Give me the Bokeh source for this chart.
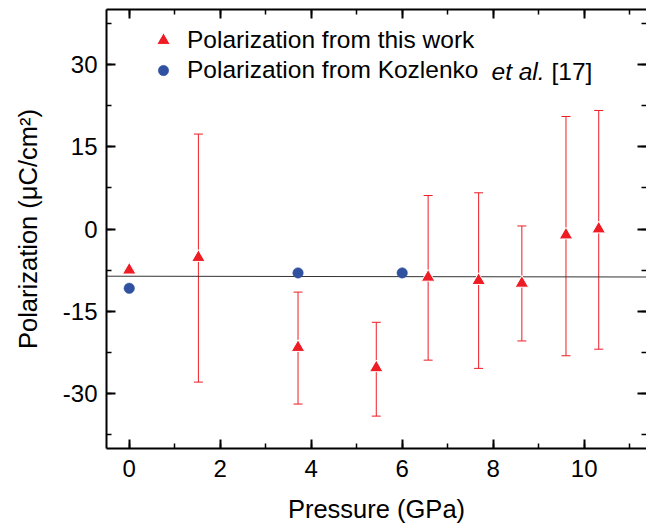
from bokeh.plotting import figure
from bokeh.models import (Range1d, LinearAxis, SingleIntervalTicker, Whisker, TeeHead,
                          ColumnDataSource, Legend, LegendItem, Label,
                          PrintfTickFormatter, CustomJSTickFormatter)
from bokeh.embed import file_html
from bokeh.resources import INLINE

# ---- data ----
pressure_this = [0.0, 1.52, 3.71, 5.43, 6.57, 7.68, 8.63, 9.60, 10.32]
pol_this = [-7.5, -5.2, -21.6, -25.3, -8.8, -9.4, -9.9, -1.1, 0.0]
err_upper = [-7.5, 17.3, -11.5, -17.0, 6.1, 6.6, 0.55, 20.5, 21.6]
err_lower = [-7.5, -27.9, -31.9, -34.1, -23.9, -25.4, -20.4, -23.1, -21.9]

pressure_koz = [0.0, 3.71, 6.0]
pol_koz = [-10.8, -8.0, -8.0]

fit_x = [-0.5, 11.5]
fit_y = [-8.6, -8.75]

x_ticks_interval = 2
y_ticks_interval = 15

legend_this = "Polarization from this work"
legend_koz_a = "Polarization from Kozlenko"
legend_koz_b = "et al."
legend_koz_c = "[17]"

RED = "#ee1c25"
BLUE = "#3050a0"
FONT = "Liberation Sans"
LEG_FS = "24.5px"

p = figure(width=646, height=526, output_backend="svg", toolbar_location=None,
           x_range=Range1d(-0.5, 11.37), y_range=Range1d(-40, 40),
           min_border_left=106, min_border_right=0, min_border_top=9, min_border_bottom=78,
           x_axis_location=None, y_axis_location=None)
p.outline_line_color = None
p.xgrid.visible = False
p.ygrid.visible = False
p.background_fill_color = "white"
p.border_fill_color = "white"


def style_axis(ax, ticker, show_labels, line=True):
    ax.ticker = ticker
    ax.major_tick_in = 9
    ax.major_tick_out = 0
    ax.minor_tick_in = 5
    ax.minor_tick_out = 0
    ax.major_tick_line_width = 2
    ax.minor_tick_line_width = 1.5
    ax.major_tick_line_color = "black"
    ax.minor_tick_line_color = "black"
    ax.axis_line_width = 2
    ax.axis_line_color = "black" if line else None
    ax.major_label_text_font = FONT
    ax.axis_label_text_font = FONT
    ax.axis_label_text_font_style = "normal"
    ax.axis_label_text_color = "black"
    ax.major_label_text_color = "black"
    if show_labels:
        ax.formatter = PrintfTickFormatter(format="%d")
    else:
        ax.formatter = CustomJSTickFormatter(code="return ''")
        ax.major_label_standoff = 0


xb = LinearAxis(axis_label="Pressure (GPa)")
style_axis(xb, SingleIntervalTicker(interval=x_ticks_interval, num_minor_ticks=2), True)
xb.major_label_text_font_size = "24px"
xb.major_label_standoff = 11
xb.axis_label_text_font_size = "25.5px"
xb.axis_label_standoff = 15
p.add_layout(xb, "below")

yl = LinearAxis(axis_label="Polarization (\u03bcC/cm\u00b2)")
style_axis(yl, SingleIntervalTicker(interval=y_ticks_interval, num_minor_ticks=2), True)
yl.major_label_text_font_size = "24px"
yl.major_label_standoff = 9
yl.axis_label_text_font_size = "25.5px"
yl.axis_label_standoff = 18
p.add_layout(yl, "left")

xt = LinearAxis()
style_axis(xt, SingleIntervalTicker(interval=x_ticks_interval, num_minor_ticks=2), False)
p.add_layout(xt, "above")

yr = LinearAxis()
style_axis(yr, SingleIntervalTicker(interval=y_ticks_interval, num_minor_ticks=2), False, line=False)
p.add_layout(yr, "right")

# fit line
p.line(fit_x, fit_y, line_color="#333333", line_width=1)

# error bars
src = ColumnDataSource(dict(x=pressure_this, y=pol_this, upper=err_upper, lower=err_lower))
wh = Whisker(source=src, base="x", upper="upper", lower="lower", dimension="height",
             line_color=RED, line_width=1,
             upper_head=TeeHead(size=9, line_color=RED, line_width=1),
             lower_head=TeeHead(size=9, line_color=RED, line_width=1))
p.add_layout(wh)

r_this = p.scatter("x", "y", source=src, marker="triangle", size=13.5,
                   fill_color=RED, line_color="white", line_width=1)
r_koz = p.scatter(pressure_koz, pol_koz, marker="circle", size=10.5,
                  fill_color=BLUE, line_color=BLUE, line_width=0.5)

common = dict(padding=0, margin=0, spacing=0, label_text_font=FONT,
              label_text_font_size=LEG_FS, label_text_color="black",
              border_line_color=None, background_fill_alpha=0)
legend1 = Legend(items=[LegendItem(label=legend_this, renderers=[r_this])],
                 location=(40, 391), glyph_width=34, glyph_height=34,
                 label_height=34, label_standoff=7, **common)
legend2 = Legend(items=[LegendItem(label=legend_koz_a, renderers=[r_koz])],
                 location=(44, 364), glyph_width=26, glyph_height=26,
                 label_height=26, label_standoff=11, **common)
p.add_layout(legend1)
p.add_layout(legend2)

lab_b = Label(x=385, y=377, x_units="screen", y_units="screen", text=legend_koz_b,
              text_font=FONT, text_font_size=LEG_FS, text_font_style="italic",
              text_baseline="middle", text_color="black")
lab_c = Label(x=445, y=377, x_units="screen", y_units="screen", text=legend_koz_c,
              text_font=FONT, text_font_size=LEG_FS,
              text_baseline="middle", text_color="black")
p.add_layout(lab_b)
p.add_layout(lab_c)

open("out.html", "w").write(file_html(p, INLINE))
